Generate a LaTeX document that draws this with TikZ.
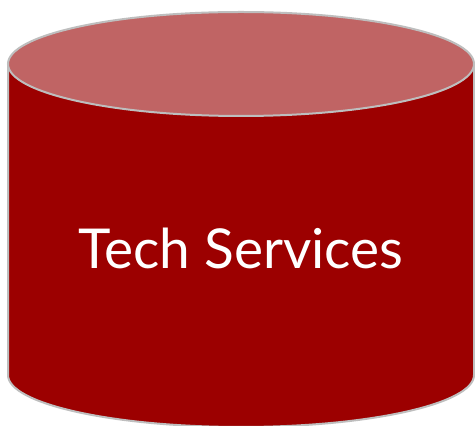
\documentclass[tikz,border=0pt]{standalone}
\usepackage{fontspec}
\setmainfont{Lato}
\definecolor{sidecol}{RGB}{156,0,0}
\definecolor{topcol}{RGB}{192,100,100}
\definecolor{edgecol}{RGB}{190,190,190}
\begin{document}
\begin{tikzpicture}[x=1pt,y=1pt,
  cyl/.style={draw=edgecol,line width=2pt},
  label/.style={text=white,font=\fontsize{55}{62}\selectfont,inner sep=0pt}]
\useasboundingbox (0,0) rectangle (475,426);
\fill[white] (0,0) rectangle (475,426);
\path[cyl,fill=sidecol] (8,362) -- (8,51) arc[start angle=180,end angle=360,x radius=233,y radius=52] -- (474,362) -- cycle;
\path[cyl,fill=topcol] (241,362) ellipse[x radius=233,y radius=52];
\node[label] (t) at (241,178) {Tech Services};
\end{tikzpicture}
\end{document}
